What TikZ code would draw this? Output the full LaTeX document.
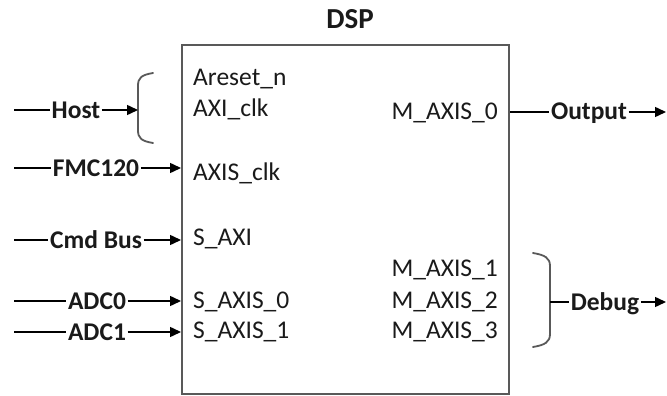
\documentclass[tikz,border=0pt]{standalone}
\usepackage{fontspec}
\setmainfont{Carlito}
\usetikzlibrary{arrows.meta}

\definecolor{boxgray}{HTML}{595959}
\definecolor{inkdark}{HTML}{1A1A1A}

\begin{document}
\begin{tikzpicture}[x=1pt,y=-1pt,
  every node/.style={text=inkdark},
  port/.style={font=\fontsize{25.5}{28}\selectfont, inner sep=0pt,
               text height=16pt, text depth=0pt},
  sig/.style={font=\bfseries\fontsize{25.5}{28}\selectfont, inner xsep=1.5pt,
              inner ysep=0pt, text height=16pt, text depth=0pt},
  wire/.style={draw=black, line width=1.5pt},
  arrowwire/.style={wire, -{Triangle[length=11pt,width=10pt]}},
  bracket/.style={draw=boxgray, line width=1.8pt, line cap=round}
]
  % page area
  \fill[white] (0,0) rectangle (667,396);
  \useasboundingbox (0,0) rectangle (667,396);

  % main block and its title
  \node[draw=boxgray, line width=2pt, anchor=north west,
        minimum width=327pt, minimum height=349pt, inner sep=0pt]
        (dsp) at (181,44) {};
  \node[font=\bfseries\fontsize{29}{32}\selectfont, inner sep=0pt,
        text height=18pt, text depth=0pt] (title) at (350,20) {DSP};

  % input ports
  \node[port, anchor=west] (areset) at (193,77)  {Areset\_n};
  \node[port, anchor=west] (axiclk) at (193,109) {AXI\_clk};
  \node[port, anchor=west] (axisclk) at (193,172) {AXIS\_clk};
  \node[port, anchor=west] (saxi)   at (193,237) {S\_AXI};
  \node[port, anchor=west] (saxis0) at (193,300) {S\_AXIS\_0};
  \node[port, anchor=west] (saxis1) at (193,330) {S\_AXIS\_1};

  % output ports
  \node[port, anchor=east] (maxis0) at (498,111) {M\_AXIS\_0};
  \node[port, anchor=east] (maxis1) at (498,268) {M\_AXIS\_1};
  \node[port, anchor=east] (maxis2) at (498,300) {M\_AXIS\_2};
  \node[port, anchor=east] (maxis3) at (498,330) {M\_AXIS\_3};

  % bracket grouping the host ports
  \draw[bracket] (153,73) .. controls (141,75) and (138,78) .. (138,86)
                 -- (138,130) .. controls (138,138) and (141,141) .. (153,143);
  \coordinate (hostin) at (138,110);

  % bracket grouping the debug ports
  \draw[bracket] (533,253) .. controls (545,255) and (550,258) .. (550,266)
                 -- (550,334) .. controls (550,342) and (545,345) .. (533,347);
  \coordinate (dbgout) at (550,302);

  % Host
  \coordinate (hostS) at (14,110);
  \node[sig] (host) at (76,110) {Host};
  \draw[wire] (hostS) -- (host);
  \draw[arrowwire] (host) -- (hostin);

  % FMC120
  \coordinate (fmcS) at (14,168);
  \node[sig] (fmc) at (96,168) {FMC120};
  \draw[wire] (fmcS) -- (fmc);
  \draw[arrowwire] (fmc) -- (fmc -| dsp.west);

  % Cmd Bus
  \coordinate (cmdS) at (14,240);
  \node[sig] (cmd) at (96,240) {Cmd Bus};
  \draw[wire] (cmdS) -- (cmd);
  \draw[arrowwire] (cmd) -- (cmd -| dsp.west);

  % ADC0
  \coordinate (adc0S) at (14,301);
  \node[sig] (adc0) at (97,301) {ADC0};
  \draw[wire] (adc0S) -- (adc0);
  \draw[arrowwire] (adc0) -- (adc0 -| dsp.west);

  % ADC1
  \coordinate (adc1S) at (14,332);
  \node[sig] (adc1) at (97,332) {ADC1};
  \draw[wire] (adc1S) -- (adc1);
  \draw[arrowwire] (adc1) -- (adc1 -| dsp.west);

  % Output
  \node[sig] (out) at (589,112) {Output};
  \coordinate (outE) at (666,112);
  \draw[wire] (out -| dsp.east) -- (out);
  \draw[arrowwire] (out) -- (outE);

  % Debug
  \node[sig] (dbg) at (605,302) {Debug};
  \coordinate (dbgE) at (666,302);
  \draw[wire] (dbgout) -- (dbg);
  \draw[arrowwire] (dbg) -- (dbgE);
\end{tikzpicture}
\end{document}
